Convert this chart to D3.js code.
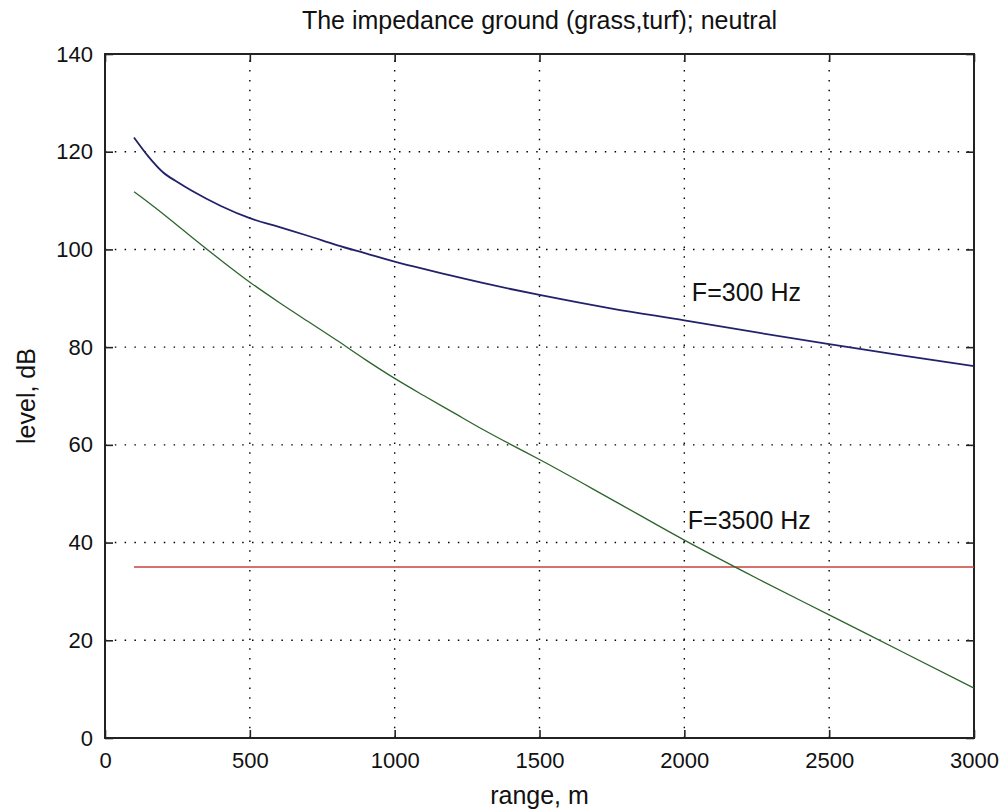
<!DOCTYPE html>
<html>
<head>
<meta charset="utf-8">
<script src="https://cdn.jsdelivr.net/npm/d3@7"></script>
<style>
  html, body { margin: 0; padding: 0; background: #fff; }
  svg { display: block; }
  text { font-family: "Liberation Sans", Arial, sans-serif; fill: #111; }
</style>
</head>
<body>
<svg id="chart" width="1005" height="812"></svg>
<script>
// ---- data ----
const rangeM = [100, 150, 200, 250, 300, 400, 500, 600, 700, 800, 900, 1000, 1100, 1200, 1300, 1400, 1500, 1750, 2000, 2250, 2500, 2750, 3000];
const level300 = [122.9, 119, 115.8, 113.8, 112, 108.9, 106.4, 104.6, 102.8, 100.9, 99.2, 97.5, 96, 94.6, 93.2, 91.9, 90.7, 87.9, 85.5, 83, 80.6, 78.3, 76.1];
const level3500 = [111.8, 109.6, 107.3, 104.9, 102.5, 97.8, 93.3, 89.2, 85.3, 81.4, 77.4, 73.6, 70.1, 66.7, 63.3, 60.1, 57, 48.8, 40.5, 32.7, 25.2, 17.7, 10.2];
const thresholdX = [100, 3000];
const thresholdLevel = [35, 35];
const xTicks = [0, 500, 1000, 1500, 2000, 2500, 3000];
const yTicks = [0, 20, 40, 60, 80, 100, 120, 140];
const titleText = "The impedance ground (grass,turf); neutral";
const xLabel = "range, m";
const yLabel = "level, dB";
const annotations = [
  { text: "F=300 Hz", x: 2026, y: 89.5 },
  { text: "F=3500 Hz", x: 2012, y: 42.8 }
];

// ---- layout ----
const svg = d3.select("#chart");
const pL = 105, pR = 974, pT = 54, pB = 738;
const x = d3.scaleLinear().domain([0, 3000]).range([pL, pR]);
const y = d3.scaleLinear().domain([0, 140]).range([pB, pT]);

// grid
const grid = svg.append("g");
grid.selectAll("line.gx").data(xTicks.slice(1, -1)).join("line")
  .attr("x1", d => x(d)).attr("x2", d => x(d)).attr("y1", pB).attr("y2", pT)
  .attr("stroke", "#000").attr("stroke-width", 1.4).attr("stroke-dasharray", "1.5 8.3");
grid.selectAll("line.gy").data(yTicks.slice(1, -1)).join("line")
  .attr("x1", pL).attr("x2", pR).attr("y1", d => y(d)).attr("y2", d => y(d))
  .attr("stroke", "#000").attr("stroke-width", 1.4).attr("stroke-dasharray", "1.5 8.3");

// axes (ticks inward, on all four sides)
const tickLen = 8;
const fmt = d3.format("d");
const axB = svg.append("g").attr("transform", `translate(0,${pB})`)
  .call(d3.axisBottom(x).tickValues(xTicks).tickSize(-tickLen).tickPadding(14).tickFormat(fmt));
const axT = svg.append("g").attr("transform", `translate(0,${pT})`)
  .call(d3.axisTop(x).tickValues(xTicks).tickSize(-tickLen).tickFormat(""));
const axL = svg.append("g").attr("transform", `translate(${pL},0)`)
  .call(d3.axisLeft(y).tickValues(yTicks).tickSize(-tickLen).tickPadding(12).tickFormat(fmt));
const axR = svg.append("g").attr("transform", `translate(${pR},0)`)
  .call(d3.axisRight(y).tickValues(yTicks).tickSize(-tickLen).tickFormat(""));
[axB, axT, axL, axR].forEach(a => {
  a.select(".domain").remove();
  a.selectAll(".tick line").attr("stroke", "#222").attr("stroke-width", 1.6);
  a.selectAll(".tick text").attr("font-size", 22).attr("fill", "#111")
    .attr("font-family", "'Liberation Sans', Arial, sans-serif");
});

// frame
svg.append("rect").attr("x", pL).attr("y", pT).attr("width", pR - pL).attr("height", pB - pT)
  .attr("fill", "none").attr("stroke", "#222").attr("stroke-width", 2);

// lines
const line = d3.line().x(d => x(d[0])).y(d => y(d[1])).curve(d3.curveMonotoneX);
svg.append("path").datum(d3.zip(thresholdX, thresholdLevel)).attr("d", line)
  .attr("fill", "none").attr("stroke", "#c8403f").attr("stroke-width", 1.3);
svg.append("path").datum(d3.zip(rangeM, level3500)).attr("d", line)
  .attr("fill", "none").attr("stroke", "#2d652d").attr("stroke-width", 1.3);
svg.append("path").datum(d3.zip(rangeM, level300)).attr("d", line)
  .attr("fill", "none").attr("stroke", "#22226c").attr("stroke-width", 1.8);

// annotations
svg.selectAll("text.ann").data(annotations).join("text").attr("class", "ann")
  .attr("x", d => x(d.x)).attr("y", d => y(d.y))
  .attr("font-size", 25).text(d => d.text);

// title & labels
svg.append("text").attr("x", (pL + pR) / 2).attr("y", 29).attr("text-anchor", "middle")
  .attr("font-size", 25).text(titleText);
svg.append("text").attr("x", (pL + pR) / 2).attr("y", 804).attr("text-anchor", "middle")
  .attr("font-size", 25).text(xLabel);
svg.append("text").attr("transform", `translate(35,${(pT + pB) / 2}) rotate(-90)`)
  .attr("text-anchor", "middle").attr("font-size", 25).text(yLabel);
</script>
</body>
</html>
